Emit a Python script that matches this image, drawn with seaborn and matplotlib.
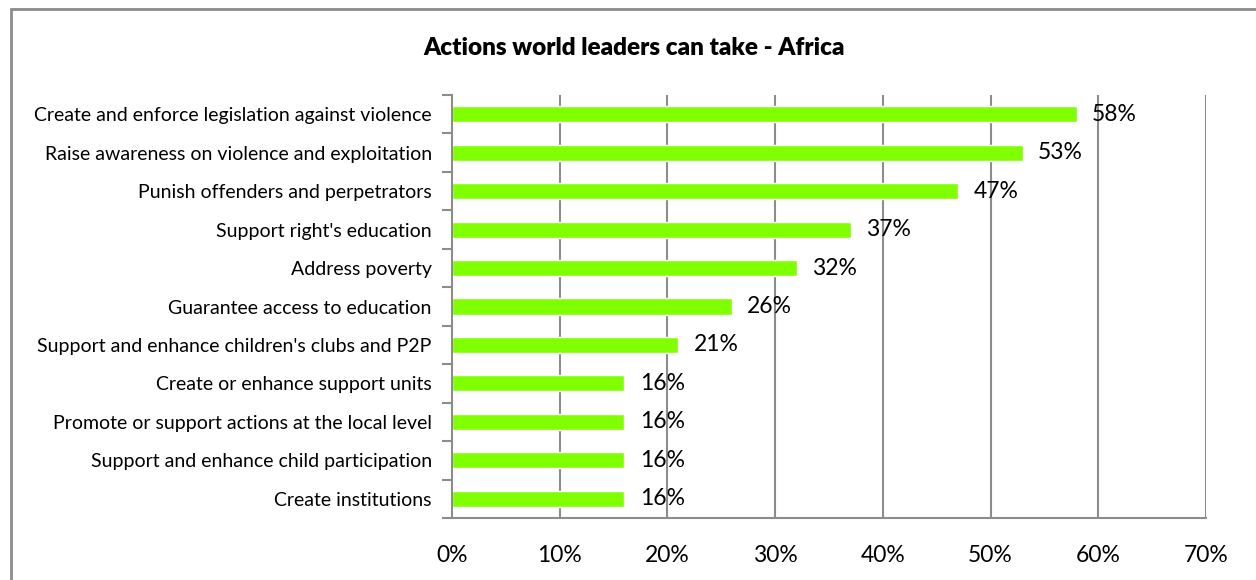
import matplotlib
matplotlib.use("Agg")
import matplotlib.pyplot as plt
import matplotlib.patches as mpatches
from matplotlib.ticker import FixedLocator, PercentFormatter
import seaborn as sns
import pandas as pd
import numpy as np

actions = [
    "Create and enforce legislation against violence",
    "Raise awareness on violence and exploitation",
    "Punish offenders and perpetrators",
    "Support right's education",
    "Address poverty",
    "Guarantee access to education",
    "Support and enhance children's clubs and P2P",
    "Create or enhance support units",
    "Promote or support actions at the local level",
    "Support and enhance child participation",
    "Create institutions",
]
shares = [58, 53, 47, 37, 32, 26, 21, 16, 16, 16, 16]
x_ticks = [0, 10, 20, 30, 40, 50, 60, 70]

df = pd.DataFrame({"action": actions, "share": shares})

sns.set_theme(style="white")
plt.rcParams["font.family"] = ["Lato", "DejaVu Sans"]
plt.rcParams["text.color"] = "black"

fig = plt.figure(figsize=(12.56, 5.80), dpi=100)
ax = fig.add_axes([452 / 1256, 62 / 580, 754 / 1256, 423 / 580])

grid_col = "#8c8c8c"

sns.barplot(data=df, x="share", y="action", orient="h", color="#80ff00",
            saturation=1, width=0.42, ax=ax, zorder=3)

ax.set_xlim(0, 70)
ax.set_ylim(len(actions) - 0.5, -0.5)
ax.set_xticks(x_ticks)
ax.xaxis.set_major_formatter(PercentFormatter(decimals=0))
ax.set_xlabel("")
ax.set_ylabel("")

# vertical gridlines
for t in x_ticks[1:]:
    ax.axvline(t, color=grid_col, lw=1.5, zorder=1)

for side in ["top", "right"]:
    ax.spines[side].set_visible(False)
for side in ["left", "bottom"]:
    ax.spines[side].set_color(grid_col)
    ax.spines[side].set_linewidth(1.5)
    ax.spines[side].set_zorder(4)

ax.tick_params(axis="x", which="major", length=7, width=1.5, color=grid_col,
               direction="out", pad=12.5, labelsize=16.5, labelcolor="black")
ax.tick_params(axis="y", which="major", length=0, pad=14.5, labelsize=14,
               labelcolor="black")
ax.yaxis.set_minor_locator(FixedLocator(np.arange(-0.5, len(actions), 1.0)))
ax.tick_params(axis="y", which="minor", length=7, width=1.5, color=grid_col,
               direction="out", left=True)

for i, v in enumerate(shares):
    ax.annotate(f"{v}%", xy=(v, i), xytext=(11, 0), textcoords="offset points",
                va="center", ha="left", fontsize=16.5, color="black", zorder=5)

fig.text(634 / 1256, 1 - 48 / 580, "Actions world leaders can take - Africa",
         ha="center", va="center", fontsize=17.5, fontweight="heavy",
         color="black")

# chart frame
fig.patches.append(mpatches.Rectangle((10.5 / 1256, -0.1), 1.2, 1 - 9 / 580 + 0.1,
                                      transform=fig.transFigure, fill=False,
                                      edgecolor=grid_col, lw=2))

fig.savefig("out.png", dpi=100)
